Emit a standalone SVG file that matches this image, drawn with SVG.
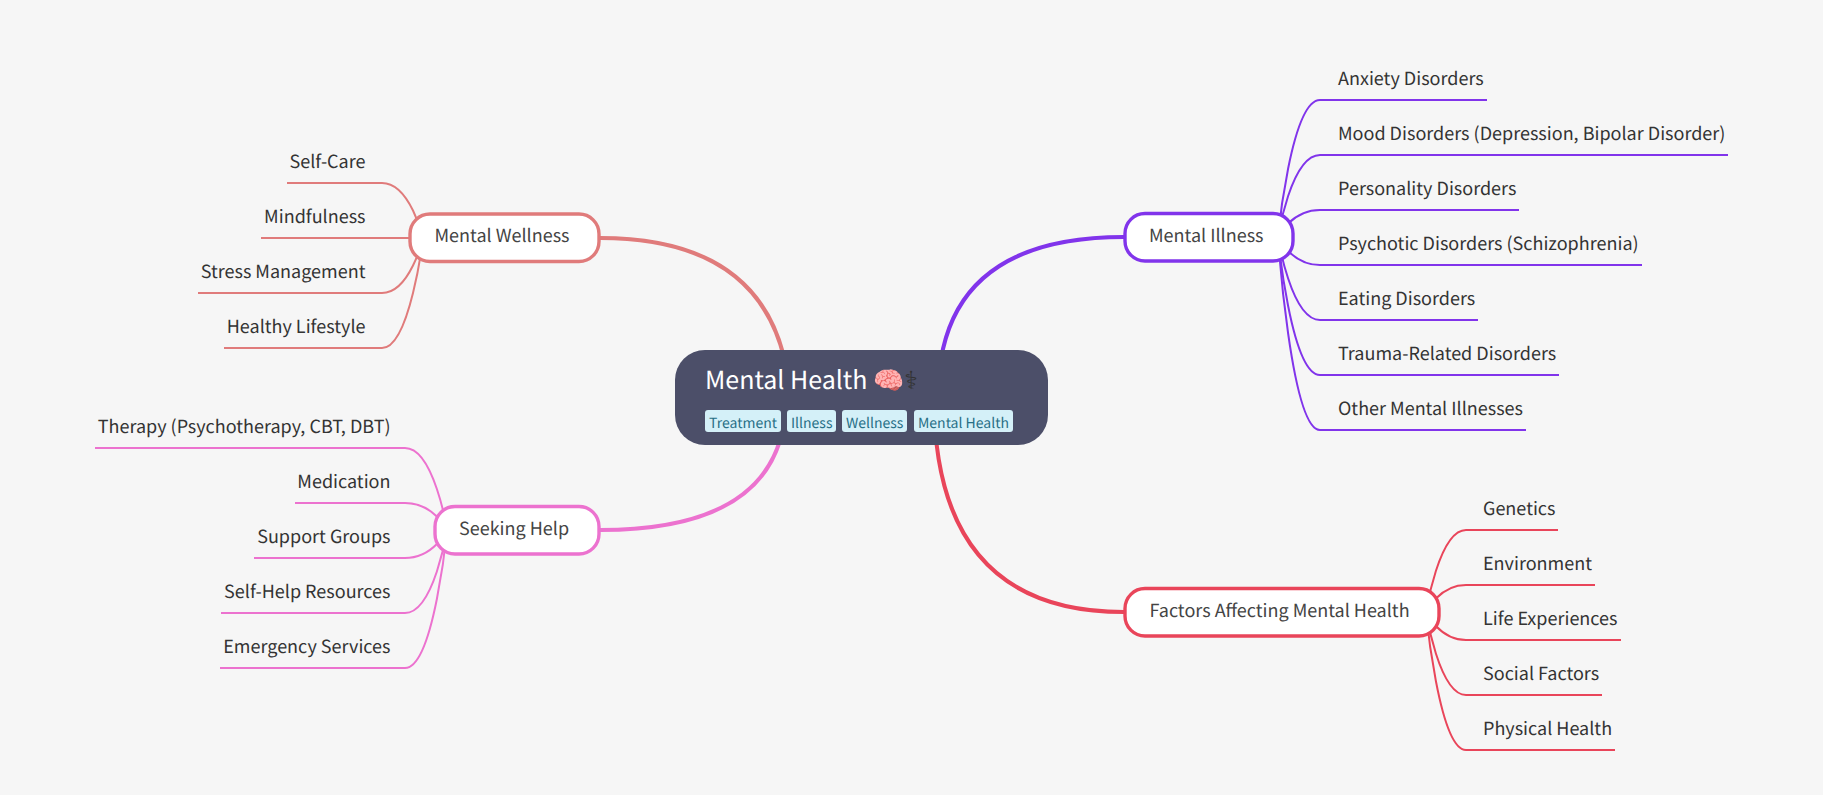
<svg xmlns="http://www.w3.org/2000/svg" width="1823" height="795" viewBox="0 0 1823 795">
<style>
text{font-family:"Noto Sans CJK SC","Noto Sans",sans-serif;text-rendering:geometricPrecision}
.l{font-size:18px;fill:#333}
.n{font-size:18px;fill:#444}
.e{text-anchor:end}
.m,.sub{fill:none}
.m{stroke-width:4}
.sub{stroke-width:2}
.box{fill:#fff;stroke-width:3.4}
.tag{fill:#d4f0f8}
.tt{font-size:14px;fill:#276f86}
.pu{stroke:#8134eb}.re{stroke:#e9455a}.sa{stroke:#e07b7b}.pk{stroke:#ec72cf}
</style>
<rect width="1823" height="795" fill="#f6f6f6"/>
<g id="connectors">
<path class="m pu" d="M938 397Q938 237 1124 237"/>
<path class="m re" d="M934 397Q934 612 1124 612"/>
<path class="m sa" d="M791 420Q791 238 600 238"/>
<path class="m pk" d="M786 397Q786 530 600 530"/>
<path class="sub pu" d="M1278 237C1278 237 1291 100 1320 100H1487"/>
<path class="sub pu" d="M1278 237C1278 237 1291 155 1320 155H1728"/>
<path class="sub pu" d="M1278 237C1278 237 1291 210 1320 210H1519"/>
<path class="sub pu" d="M1278 237C1278 237 1291 265 1320 265H1642"/>
<path class="sub pu" d="M1278 237C1278 237 1291 320 1320 320H1478"/>
<path class="sub pu" d="M1278 237C1278 237 1291 375 1320 375H1559"/>
<path class="sub pu" d="M1278 237C1278 237 1291 430 1320 430H1526"/>
<path class="sub re" d="M1426 612C1426 612 1439 530 1466 530H1558"/>
<path class="sub re" d="M1426 612C1426 612 1439 585 1466 585H1595"/>
<path class="sub re" d="M1426 612C1426 612 1439 640 1466 640H1621"/>
<path class="sub re" d="M1426 612C1426 612 1439 695 1466 695H1602"/>
<path class="sub re" d="M1426 612C1426 612 1439 750 1466 750H1615"/>
<path class="sub sa" d="M423 238C423 238 410 183 382 183H287"/>
<path class="sub sa" d="M423 238C423 238 410 238 382 238H261"/>
<path class="sub sa" d="M423 238C423 238 410 293 382 293H198"/>
<path class="sub sa" d="M423 238C423 238 410 348 382 348H224"/>
<path class="sub pk" d="M447 530C447 530 434 448 405 448H95"/>
<path class="sub pk" d="M447 530C447 530 434 503 405 503H295"/>
<path class="sub pk" d="M447 530C447 530 434 558 405 558H254"/>
<path class="sub pk" d="M447 530C447 530 434 613 405 613H221"/>
<path class="sub pk" d="M447 530C447 530 434 668 405 668H220"/>
</g>
<g id="root"><rect x="675" y="350" width="373" height="95" rx="30" fill="#4c4f69"/>
<text x="705" y="389" font-size="25" fill="#fff">Mental Health 🧠<tspan fill="#333">⚕</tspan></text>
<rect class="tag" x="705" y="410" width="76" height="22" rx="3"/><text class="tt" x="709" y="428">Treatment</text>
<rect class="tag" x="787" y="410" width="49" height="22" rx="3"/><text class="tt" x="791" y="428">Illness</text>
<rect class="tag" x="842" y="410" width="65" height="22" rx="3"/><text class="tt" x="846" y="428">Wellness</text>
<rect class="tag" x="914" y="410" width="99" height="22" rx="3"/><text class="tt" x="918" y="428">Mental Health</text>
</g>
<g id="illness"><rect class="box pu" x="1125" y="213.500" width="168" height="47.500" rx="20"/><text class="n" x="1149" y="242">Mental Illness</text></g>
<g id="illness-1"><text class="l" x="1338" y="85">Anxiety Disorders</text></g>
<g id="illness-2"><text class="l" x="1338" y="140">Mood Disorders (Depression, Bipolar Disorder)</text></g>
<g id="illness-3"><text class="l" x="1338" y="195">Personality Disorders</text></g>
<g id="illness-4"><text class="l" x="1338" y="250">Psychotic Disorders (Schizophrenia)</text></g>
<g id="illness-5"><text class="l" x="1338" y="305">Eating Disorders</text></g>
<g id="illness-6"><text class="l" x="1338" y="360">Trauma-Related Disorders</text></g>
<g id="illness-7"><text class="l" x="1338" y="415">Other Mental Illnesses</text></g>
<g id="factors"><rect class="box re" x="1125" y="588.500" width="314" height="47.500" rx="20"/><text class="n" x="1149.500" y="617">Factors Affecting Mental Health</text></g>
<g id="factors-1"><text class="l" x="1483" y="515">Genetics</text></g>
<g id="factors-2"><text class="l" x="1483" y="570">Environment</text></g>
<g id="factors-3"><text class="l" x="1483" y="625">Life Experiences</text></g>
<g id="factors-4"><text class="l" x="1483" y="680">Social Factors</text></g>
<g id="factors-5"><text class="l" x="1483" y="735">Physical Health</text></g>
<g id="wellness"><rect class="box sa" x="410" y="214" width="189" height="47.500" rx="20"/><text class="n" x="434.500" y="242">Mental Wellness</text></g>
<g id="wellness-1"><text class="l e" x="365.500" y="168">Self-Care</text></g>
<g id="wellness-2"><text class="l e" x="365.500" y="223">Mindfulness</text></g>
<g id="wellness-3"><text class="l e" x="365.500" y="278">Stress Management</text></g>
<g id="wellness-4"><text class="l e" x="365.500" y="333">Healthy Lifestyle</text></g>
<g id="help"><rect class="box pk" x="435" y="506.500" width="164" height="47.500" rx="20"/><text class="n" x="459" y="535">Seeking Help</text></g>
<g id="help-1"><text class="l e" x="390.500" y="433">Therapy (Psychotherapy, CBT, DBT)</text></g>
<g id="help-2"><text class="l e" x="390.500" y="488">Medication</text></g>
<g id="help-3"><text class="l e" x="390.500" y="543">Support Groups</text></g>
<g id="help-4"><text class="l e" x="390.500" y="598">Self-Help Resources</text></g>
<g id="help-5"><text class="l e" x="390.500" y="653">Emergency Services</text></g>
</svg>
